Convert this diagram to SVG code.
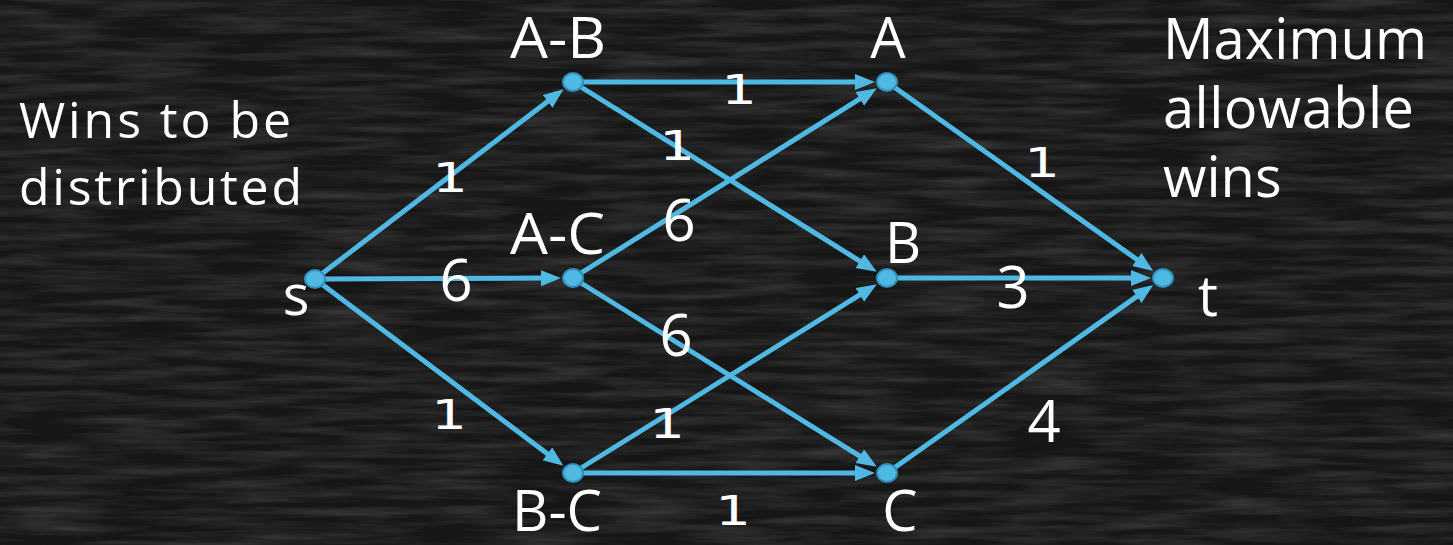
<svg xmlns="http://www.w3.org/2000/svg" width="1453" height="545" viewBox="0 0 1453 545">
<defs>
<filter id="chalk" x="0" y="0" width="100%" height="100%">
<feTurbulence type="fractalNoise" baseFrequency="0.01 0.12" numOctaves="4" seed="7" result="n"/>
<feColorMatrix in="n" type="matrix" values="0 0 0 0 0.5  0 0 0 0 0.5  0 0 0 0 0.5  0 0 0 0.35 -0.12"/>
</filter>
<marker id="arr" markerUnits="userSpaceOnUse" markerWidth="22" markerHeight="18" refX="7" refY="8" orient="auto" viewBox="0 0 22 18">
<path d="M0,0 L20,8 L0,16 z" fill="#4fb9e3"/>
</marker>
<style>
.edge{stroke:#4fb9e3;stroke-width:5;fill:none;marker-end:url(#arr)}
.node{fill:#4fb9e3;stroke:#2f8fb8;stroke-width:2}
.lbl{font-family:"Open Sans","Noto Sans",sans-serif;fill:#fff;font-size:56px}
.side{font-family:"Open Sans","Noto Sans",sans-serif;fill:#fff}
.num{font-family:"Open Sans","Noto Sans",sans-serif;fill:#fff;font-size:58px;text-anchor:middle}
.one{font-family:"DejaVu Sans",sans-serif;fill:#fff;font-size:40px;text-anchor:middle}
</style>
</defs>
<rect width="1453" height="545" fill="#161616"/>
<rect width="1453" height="545" filter="url(#chalk)"/>

<g id="connectors">
<line class="edge" x1="315" y1="279" x2="553.2" y2="97.2"/>
<line class="edge" x1="315" y1="279" x2="548" y2="278.1"/>
<line class="edge" x1="315" y1="279" x2="553" y2="458"/>
<line class="edge" x1="573" y1="82" x2="862" y2="82"/>
<line class="edge" x1="573" y1="82" x2="865.8" y2="264.8"/>
<line class="edge" x1="573" y1="278" x2="865.8" y2="95.2"/>
<line class="edge" x1="573" y1="278" x2="865.8" y2="459.8"/>
<line class="edge" x1="573" y1="473" x2="865.8" y2="291.2"/>
<line class="edge" x1="573" y1="473" x2="862" y2="473"/>
<line class="edge" x1="887" y1="82" x2="1142.6" y2="263.5"/>
<line class="edge" x1="887" y1="278" x2="1138" y2="278"/>
<line class="edge" x1="887" y1="473" x2="1142.6" y2="292.4"/>
</g>

<g id="edge-labels">
<text class="one" transform="translate(450,192) scale(1.4,1)">1</text>
<text class="num" x="456" y="301">6</text>
<text class="one" transform="translate(449,429) scale(1.4,1)">1</text>
<text class="one" transform="translate(739,104) scale(1.4,1)">1</text>
<text class="one" transform="translate(677,160) scale(1.4,1)">1</text>
<text class="num" x="679" y="241">6</text>
<text class="num" x="676" y="356">6</text>
<text class="one" transform="translate(667,438) scale(1.4,1)">1</text>
<text class="one" transform="translate(733,525) scale(1.4,1)">1</text>
<text class="one" transform="translate(1042,177) scale(1.4,1)">1</text>
<text class="num" x="1013" y="308">3</text>
<text class="num" x="1044" y="442">4</text>
</g>

<g id="node-s"><ellipse class="node" cx="315" cy="279" rx="10" ry="9"/><text class="lbl" x="296" y="315" text-anchor="middle">s</text></g>
<g id="node-AB"><ellipse class="node" cx="573" cy="82" rx="10" ry="9"/><text class="lbl" x="510" y="58" textLength="96" lengthAdjust="spacingAndGlyphs">A-B</text></g>
<g id="node-AC"><ellipse class="node" cx="573" cy="278" rx="10" ry="9"/><text class="lbl" x="510" y="254" textLength="95" lengthAdjust="spacingAndGlyphs">A-C</text></g>
<g id="node-BC"><ellipse class="node" cx="573" cy="473" rx="10" ry="9"/><text class="lbl" x="512" y="531" textLength="90" lengthAdjust="spacingAndGlyphs">B-C</text></g>
<g id="node-A"><ellipse class="node" cx="887" cy="82" rx="10" ry="9"/><text class="lbl" x="888" y="58" text-anchor="middle">A</text></g>
<g id="node-B"><ellipse class="node" cx="887" cy="278" rx="10" ry="9"/><text class="lbl" x="903" y="263" text-anchor="middle">B</text></g>
<g id="node-C"><ellipse class="node" cx="887" cy="473" rx="10" ry="9"/><text class="lbl" x="900" y="531" text-anchor="middle">C</text></g>
<g id="node-t"><ellipse class="node" cx="1163" cy="278" rx="10" ry="9"/><text class="lbl" x="1208" y="316" text-anchor="middle">t</text></g>

<g id="left-note">
<text class="side" font-size="50" x="19" y="138" textLength="272" lengthAdjust="spacing">Wins to be</text>
<text class="side" font-size="50" x="19" y="205" textLength="283" lengthAdjust="spacing">distributed</text>
</g>
<g id="right-note">
<text class="side" font-size="56" x="1163" y="59" textLength="264" lengthAdjust="spacingAndGlyphs">Maximum</text>
<text class="side" font-size="56" x="1163" y="128" textLength="251" lengthAdjust="spacing">allowable</text>
<text class="side" font-size="56" x="1163" y="197">wins</text>
</g>
</svg>
